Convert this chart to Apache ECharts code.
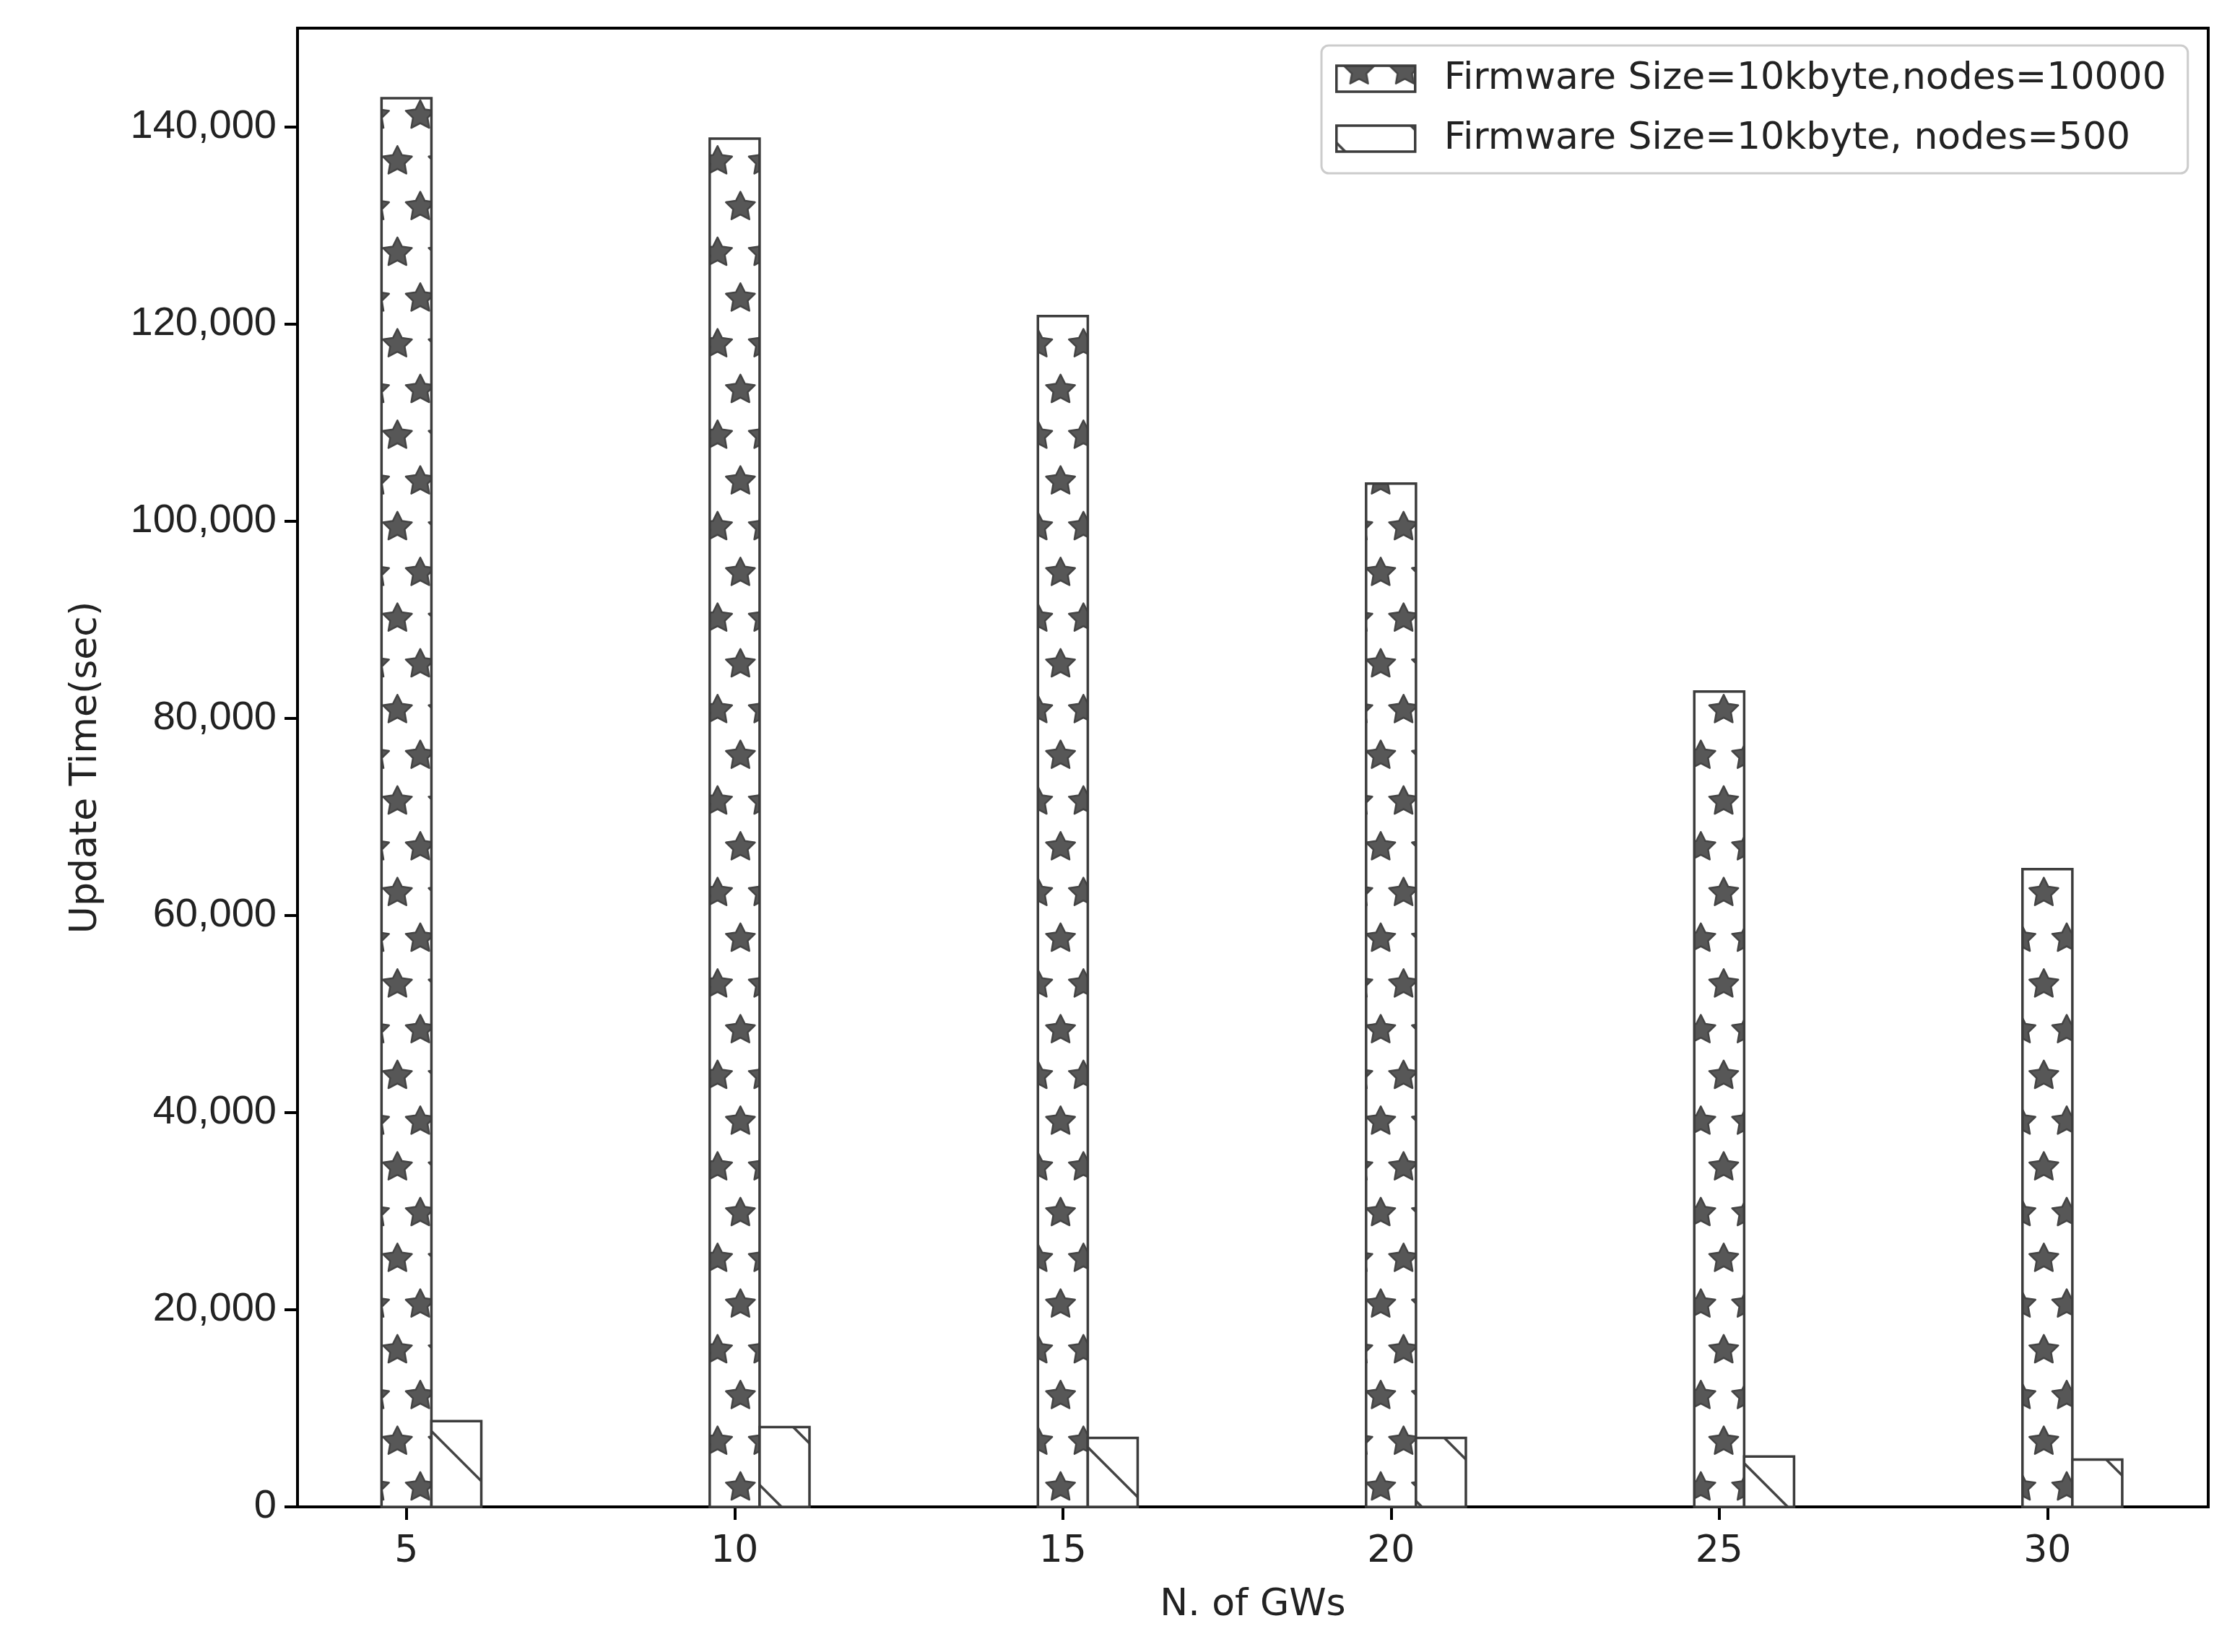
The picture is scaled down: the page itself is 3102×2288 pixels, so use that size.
<!DOCTYPE html>
<html>
<head>
<meta charset="utf-8">
<script src="https://cdn.jsdelivr.net/npm/echarts@6/dist/echarts.min.js"></script>
<style>
  html, body { margin: 0; padding: 0; background: #fff; }
  #chart { width: 3102px; height: 2288px; }
</style>
</head>
<body>
<div id="chart"></div>
<script>
// data
const gws = [5, 10, 15, 20, 25, 30];
const nodes10000 = [142900, 138800, 120800, 103800, 82700, 64700];
const nodes500 = [8700, 8100, 7000, 7000, 5100, 4800];
const yTicks = [0, 20000, 40000, 60000, 80000, 100000, 120000, 140000];
const seriesNames = ['Firmware Size=10kbyte,nodes=10000', 'Firmware Size=10kbyte, nodes=500'];

const BAR_W = 0.76;       // bar width in x units
const EDGE = '#3c3c3c';
const TILE = 380;         // hatch tile, anchored at canvas origin like matplotlib

// star hatch tile
function starTile() {
  const c = document.createElement('canvas');
  c.width = c.height = TILE;
  const ctx = c.getContext('2d');
  ctx.fillStyle = '#fff';
  ctx.fillRect(0, 0, TILE, TILE);
  const P = TILE / 6, R = P / 3;
  ctx.fillStyle = '#575757';
  ctx.strokeStyle = '#444';
  ctx.lineWidth = 2.5;
  ctx.lineJoin = 'round';
  for (let j = -1; j <= 6; j++) {
    const y = 33.3 + j * P;
    const odd = ((j % 2) + 2) % 2;
    const x0 = 12 + odd * P / 2;
    for (let i = -1; i <= 6; i++) {
      const cx = x0 + i * P;
      ctx.beginPath();
      for (let k = 0; k < 10; k++) {
        const a = -Math.PI / 2 + k * Math.PI / 5;
        const r = k % 2 ? R * 0.5 : R;
        const px = cx + r * Math.cos(a), py = y + r * Math.sin(a);
        k ? ctx.lineTo(px, py) : ctx.moveTo(px, py);
      }
      ctx.closePath();
      ctx.fill();
      ctx.stroke();
    }
  }
  return c;
}

// sparse back-slash hatch tile
function lineTile() {
  const c = document.createElement('canvas');
  c.width = c.height = TILE;
  const ctx = c.getContext('2d');
  ctx.fillStyle = '#fff';
  ctx.fillRect(0, 0, TILE, TILE);
  ctx.strokeStyle = '#444';
  ctx.lineWidth = 3.5;
  const S = TILE / 3;
  for (let k = -6; k <= 6; k++) {
    const c0 = 118 + k * S;
    ctx.beginPath();
    ctx.moveTo(-40, -40 + c0);
    ctx.lineTo(TILE + 40, TILE + 40 + c0);
    ctx.stroke();
  }
  return c;
}

const starImg = starTile(), lineImg = lineTile();
const starFill = { image: starImg, repeat: 'repeat' };
const lineFill = { image: lineImg, repeat: 'repeat' };
// legend icons draw in their own local frame, shift the hatch back to page origin
const starLegendFill = { image: starImg, repeat: 'repeat', x: -1849, y: -89 };
const lineLegendFill = { image: lineImg, repeat: 'repeat', x: -1849, y: -170 };

const chart = echarts.init(document.getElementById('chart'));

function barRenderer(fill, shift) {
  return function (params, api) {
    const x = api.value(0) + shift;
    const top = api.coord([x, api.value(1)]);
    const base = api.coord([x, 0]);
    const w = api.size([BAR_W, 0])[0];
    return {
      type: 'rect',
      shape: { x: top[0] - w / 2, y: top[1], width: w, height: base[1] - top[1] },
      style: { fill: fill, stroke: EDGE, lineWidth: 3.5 }
    };
  };
}

chart.setOption({
  animation: false,
  backgroundColor: '#fff',
  grid: {
    left: 412, right: 44, top: 39, bottom: 201,
    show: true, borderColor: '#000', borderWidth: 4
  },
  legend: {
    orient: 'vertical',
    left: 1830, top: 63,
    padding: [20, 30, 22, 19],
    itemGap: 31,
    itemWidth: 109, itemHeight: 36,
    icon: 'rect',
    backgroundColor: '#fff',
    borderColor: '#cccccc', borderWidth: 3, borderRadius: 10,
    textStyle: {
      fontFamily: 'DejaVu Sans', fontSize: 52, color: '#222',
      lineHeight: 36, padding: [0, 0, 0, 35]
    },
    data: [
      { name: seriesNames[0], itemStyle: { color: starLegendFill, borderColor: EDGE, borderWidth: 3.5 } },
      { name: seriesNames[1], itemStyle: { color: lineLegendFill, borderColor: EDGE, borderWidth: 3.5 } }
    ]
  },
  xAxis: {
    type: 'value',
    min: 3.34, max: 32.45,
    name: 'N. of GWs',
    nameLocation: 'middle', nameGap: 110,
    nameTextStyle: { fontFamily: 'DejaVu Sans', fontSize: 52, color: '#222' },
    axisLine: { lineStyle: { color: '#000', width: 4 } },
    axisTick: { length: 18, lineStyle: { color: '#000', width: 4 }, customValues: gws },
    axisLabel: {
      customValues: gws, margin: 36,
      fontFamily: 'DejaVu Sans', fontSize: 52, color: '#222'
    },
    splitLine: { show: false }
  },
  yAxis: {
    type: 'value',
    min: 0, max: 150000,
    name: 'Update Time(sec)',
    nameLocation: 'middle', nameGap: 267,
    nameTextStyle: { fontFamily: 'DejaVu Sans', fontSize: 52, color: '#222' },
    axisLine: { show: true, lineStyle: { color: '#000', width: 4 } },
    axisTick: { show: true, length: 18, lineStyle: { color: '#000', width: 4 }, customValues: yTicks },
    axisLabel: {
      customValues: yTicks, margin: 29,
      fontFamily: 'Liberation Sans', fontSize: 56, color: '#222',
      formatter: v => Number(v).toLocaleString('en-US')
    },
    splitLine: { show: false }
  },
  series: [
    {
      name: seriesNames[0],
      type: 'custom',
      itemStyle: { color: starFill, borderColor: EDGE },
      renderItem: barRenderer(starFill, 0),
      data: gws.map((g, i) => [g, nodes10000[i]])
    },
    {
      name: seriesNames[1],
      type: 'custom',
      itemStyle: { color: lineFill, borderColor: EDGE },
      renderItem: barRenderer(lineFill, BAR_W),
      data: gws.map((g, i) => [g, nodes500[i]])
    }
  ]
});
</script>
</body>
</html>
